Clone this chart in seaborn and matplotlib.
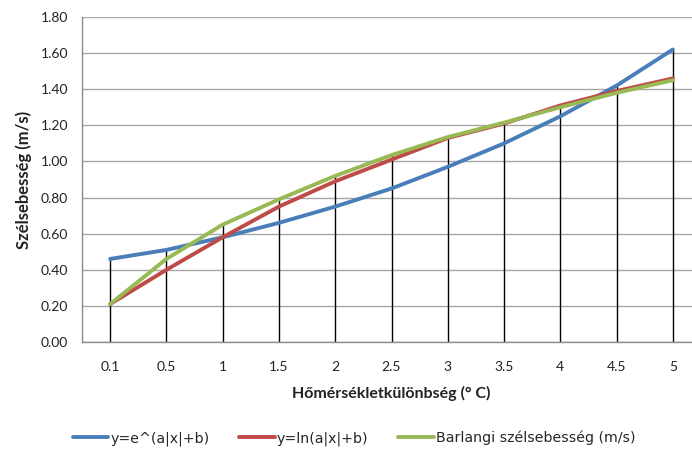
import matplotlib
matplotlib.use("Agg")
import matplotlib.pyplot as plt
import seaborn as sns
import pandas as pd
import numpy as np

categories = ["0.1", "0.5", "1", "1.5", "2", "2.5", "3", "3.5", "4", "4.5", "5"]
exp_fit = [0.46, 0.51, 0.58, 0.66, 0.75, 0.85, 0.97, 1.10, 1.25, 1.42, 1.62]
ln_fit = [0.21, 0.40, 0.58, 0.75, 0.89, 1.01, 1.13, 1.21, 1.31, 1.39, 1.46]
measured = [0.21, 0.46, 0.65, 0.79, 0.92, 1.035, 1.135, 1.215, 1.30, 1.38, 1.45]
series_names = ["y=e^(a|x|+b)", "y=ln(a|x|+b)", "Barlangi szélsebesség (m/s)"]
colors = ["#4A7EBB", "#BE4B48", "#98B954"]
yticks = [0.0, 0.2, 0.4, 0.6, 0.8, 1.0, 1.2, 1.4, 1.6, 1.8]

sns.set_style("white")
plt.rcParams["font.family"] = ["Lato", "DejaVu Sans"]

rows = []
for name, vals in zip(series_names, [exp_fit, ln_fit, measured]):
    for c, v in zip(categories, vals):
        rows.append({"cat": c, "val": v, "series": name})
df = pd.DataFrame(rows)

fig = plt.figure(figsize=(6.92, 4.5), dpi=100)
ax = fig.add_axes([82 / 692, 1 - 342 / 450, (701 - 82) / 692, (342 - 17) / 450])

# drop lines
pos = np.arange(len(categories))
tops = np.max(np.array([exp_fit, ln_fit, measured]), axis=0)
ax.vlines(pos, 0, tops, color="black", lw=1.0, zorder=1.5)

sns.lineplot(data=df, x="cat", y="val", hue="series", palette=colors,
             linewidth=2.8, ax=ax, legend=False, zorder=3, sort=False)

ax.set_xlim(-0.5, len(categories) - 0.5)
ax.set_ylim(0, 1.8)
ax.set_yticks(yticks)
ax.set_yticklabels([f"{t:.2f}" for t in yticks], fontsize=10, color="#222222")
ax.yaxis.grid(True, color="#A6A6A6", lw=1.0)
ax.xaxis.grid(False)
ax.set_axisbelow(True)

ax.set_xticks(np.arange(-0.5, len(categories), 1.0))
ax.set_xticklabels([])
ax.set_xticks(pos, minor=True)
ax.set_xticklabels(categories, minor=True, fontsize=10, color="#222222")
ax.tick_params(axis="x", which="major", direction="out", length=4, color="#8C8C8C", width=1)
ax.tick_params(axis="x", which="minor", length=0, pad=14)
ax.tick_params(axis="y", direction="out", length=4, color="#8C8C8C", width=1, pad=6)

for s in ["top", "right"]:
    ax.spines[s].set_visible(False)
for s in ["left", "bottom"]:
    ax.spines[s].set_color("#8C8C8C")
    ax.spines[s].set_linewidth(1)

ax.set_xlabel("Hőmérsékletkülönbség (° C)", fontsize=11.5, fontweight="bold", color="#222222", labelpad=9)
ax.set_ylabel("Szélsebesség (m/s)", fontsize=12, fontweight="bold", color="#222222", labelpad=6)

handles = [plt.Line2D([0], [0], color=c, lw=2.8) for c in colors]
fig.legend(handles, series_names, loc="center left", bbox_to_anchor=(73 / 692, 1 - 438 / 450),
           ncol=3, frameon=False, borderpad=0, borderaxespad=0,
           prop={"family": ["DejaVu Sans"], "size": 10.2},
           handlelength=2.5, handletextpad=0.15, columnspacing=2.1)

fig.savefig("out.png", dpi=100, facecolor="white")
